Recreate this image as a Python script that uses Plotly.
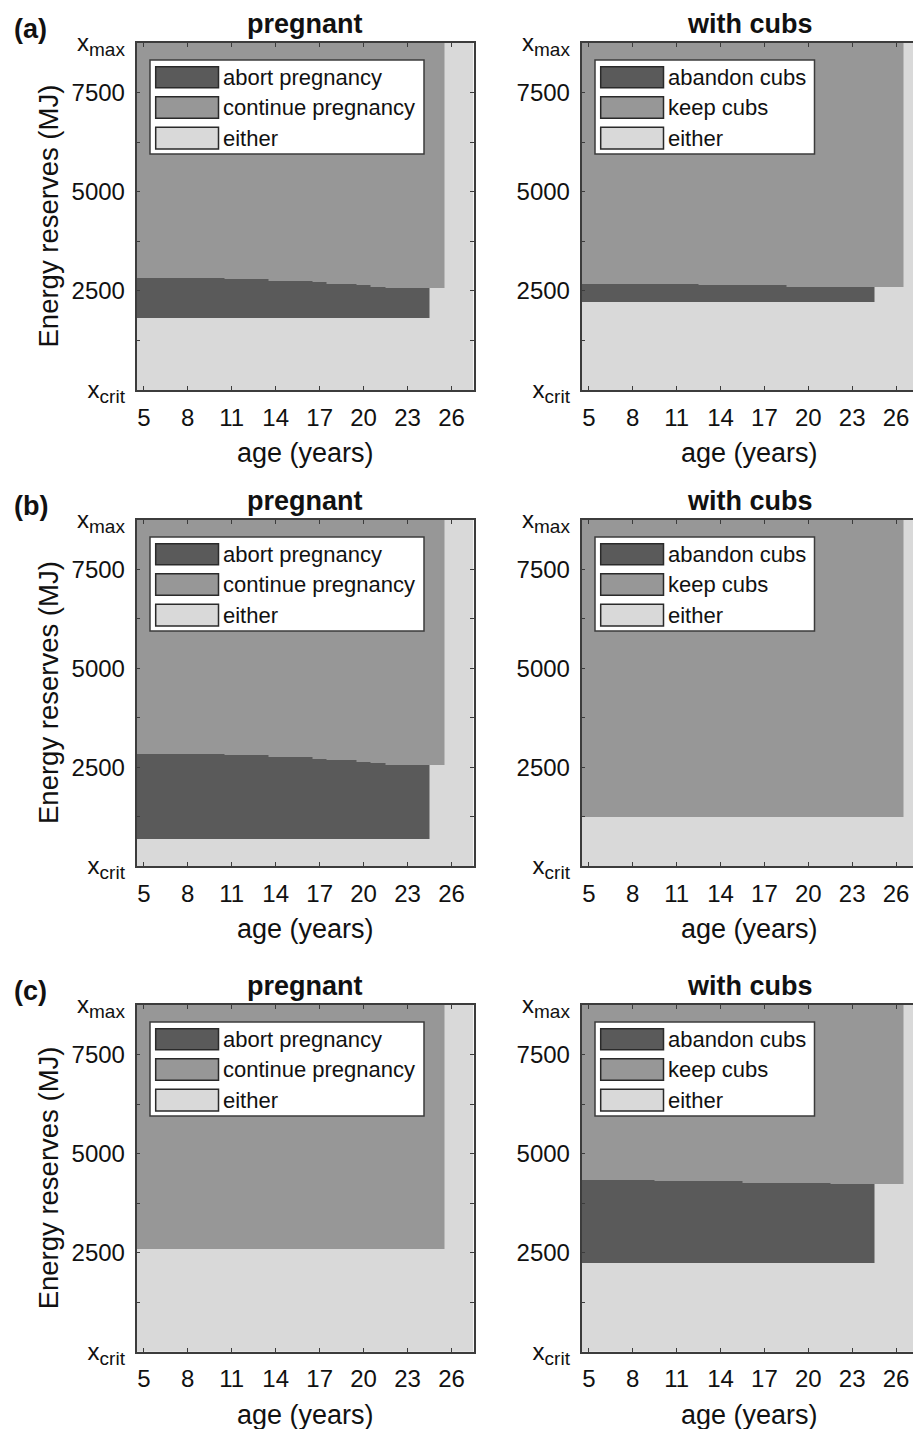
import plotly.graph_objects as go

# ---------------- data ----------------
ages = [5, 6, 7, 8, 9, 10, 11, 12, 13, 14, 15, 16, 17, 18, 19, 20, 21, 22, 23, 24, 25, 26, 27]
x_tickvals = [5, 8, 11, 14, 17, 20, 23, 26]
y_tickvals = [0, 1250, 2500, 3750, 5000, 6250, 7500, 8750]
SUB = "<sub><span style='font-size:19px'>{}</span></sub>"
y_ticktext = ["x" + SUB.format("crit"), "", "2500", "", "5000", "", "7500", "x" + SUB.format("max")]
E_MIN, E_MAX = 0, 8750

preg_labels = ["abort pregnancy", "continue pregnancy", "either"]
cubs_labels = ["abandon cubs", "keep cubs", "either"]

# lower bound of the "continue/keep" region per age (None -> whole column is "either")
a_preg_cont = [2832, 2832, 2832, 2832, 2832, 2832, 2791, 2791, 2791, 2756, 2756, 2756,
               2723, 2681, 2681, 2640, 2605, 2565, 2565, 2565, 2565, None, None]
# lower bound of the "abort/abandon" region per age (None -> no such region)
a_preg_abort = [1823, 1823, 1823, 1823, 1823, 1823, 1823, 1823, 1823, 1823, 1823, 1823,
                1823, 1823, 1823, 1823, 1823, 1823, 1823, 1823, None, None, None]

a_cubs_cont = [2673, 2673, 2673, 2673, 2673, 2673, 2673, 2673, 2640, 2640, 2640, 2640,
               2640, 2640, 2597, 2597, 2597, 2597, 2597, 2597, 2597, 2597, None]
a_cubs_abort = [2219, 2219, 2219, 2219, 2219, 2219, 2219, 2219, 2219, 2219, 2219, 2219,
                2219, 2219, 2219, 2219, 2219, 2219, 2219, 2219, None, None, None]

b_preg_cont = [2842, 2842, 2842, 2842, 2842, 2842, 2807, 2807, 2807, 2757, 2757, 2757,
               2716, 2673, 2673, 2640, 2605, 2565, 2565, 2565, 2565, None, None]
b_preg_abort = [673, 673, 673, 673, 673, 673, 673, 673, 673, 673, 673, 673,
                673, 673, 673, 673, 673, 673, 673, 673, None, None, None]

b_cubs_cont = [1250, 1250, 1250, 1250, 1250, 1250, 1250, 1250, 1250, 1250, 1250, 1250,
               1250, 1250, 1250, 1250, 1250, 1250, 1250, 1250, 1250, 1250, None]
b_cubs_abort = [None, None, None, None, None, None, None, None, None, None, None, None,
                None, None, None, None, None, None, None, None, None, None, None]

c_preg_cont = [2590, 2590, 2590, 2590, 2590, 2590, 2590, 2590, 2590, 2590, 2590, 2590,
               2590, 2590, 2590, 2590, 2590, 2590, 2590, 2590, 2590, None, None]
c_preg_abort = [None, None, None, None, None, None, None, None, None, None, None, None,
                None, None, None, None, None, None, None, None, None, None, None]

c_cubs_cont = [4330, 4330, 4330, 4330, 4330, 4297, 4297, 4297, 4297, 4297, 4297, 4262,
               4262, 4262, 4262, 4262, 4262, 4225, 4225, 4225, 4225, 4225, None]
c_cubs_abort = [2245, 2245, 2245, 2245, 2245, 2245, 2245, 2245, 2245, 2245, 2245, 2245,
                2245, 2245, 2245, 2245, 2245, 2245, 2245, 2245, None, None, None]

# ---------------- style / layout ----------------
PAGE_OFF = 8            # default body margin of the html page
W, H = 913, 1421        # figure size (window minus body margin)
DARK, MID, LIGHT = "#5a5a5a", "#979797", "#d9d9d9"
AXC = "#3c3c3c"
FONT = "Liberation Sans, Arial, sans-serif"

# positions measured in window pixels
col_px = [(136.5, 473.5), (581.5, 918.0)]
row_px = [(43.0, 390.0), (520.0, 866.0), (1005.0, 1351.7)]
row_tags = ["(a)", "(b)", "(c)"]

panels = [
    (0, 0, "pregnant", a_preg_cont, a_preg_abort, preg_labels),
    (0, 1, "with cubs", a_cubs_cont, a_cubs_abort, cubs_labels),
    (1, 0, "pregnant", b_preg_cont, b_preg_abort, preg_labels),
    (1, 1, "with cubs", b_cubs_cont, b_cubs_abort, cubs_labels),
    (2, 0, "pregnant", c_preg_cont, c_preg_abort, preg_labels),
    (2, 1, "with cubs", c_cubs_cont, c_cubs_abort, cubs_labels),
]


def px(x):
    return (x - PAGE_OFF) / W


def py(y):
    return 1 - (y - PAGE_OFF) / H


x_edges = [a - 0.5 for a in ages] + [ages[-1] + 0.5]

fig = go.Figure()
shapes, annotations = [], []

for i, (r, c, title, cont, abort, labels) in enumerate(panels, start=1):
    xs = "x" if i == 1 else f"x{i}"
    ys = "y" if i == 1 else f"y{i}"
    L, R = col_px[c]
    T, B = row_px[r]

    # grid built from the per-age boundaries
    bounds = {E_MIN, E_MAX}
    bounds.update(v for v in cont if v is not None)
    bounds.update(v for v in abort if v is not None)
    y_edges = sorted(bounds)
    z = []
    for k in range(len(y_edges) - 1):
        yc = 0.5 * (y_edges[k] + y_edges[k + 1])
        row = []
        for j in range(len(ages)):
            if cont[j] is None:
                row.append(0)
            elif yc >= cont[j]:
                row.append(1)
            elif abort[j] is not None and yc >= abort[j]:
                row.append(2)
            else:
                row.append(0)
        z.append(row)

    fig.add_trace(go.Heatmap(
        x=x_edges, y=y_edges, z=z, xaxis=xs, yaxis=ys,
        colorscale=[[0, LIGHT], [0.5, MID], [1, DARK]], zmin=0, zmax=2,
        zsmooth=False, showscale=False, hoverinfo="skip"))

    xk = "xaxis" if i == 1 else f"xaxis{i}"
    yk = "yaxis" if i == 1 else f"yaxis{i}"
    fig.update_layout(**{
        xk: dict(domain=[px(L), min(px(R), 1.0)], anchor=ys, range=[4.5, 27.5],
                 tickvals=x_tickvals, ticks="inside", ticklen=4, tickwidth=1.2,
                 tickcolor=AXC, showline=True, linecolor=AXC, linewidth=1.5,
                 mirror="allticks", showgrid=False, zeroline=False,
                 tickfont=dict(family=FONT, size=24, color="#111"),
                 ticklabelstandoff=5, automargin=False, fixedrange=True),
        yk: dict(domain=[py(B), py(T)], anchor=xs, range=[E_MIN, E_MAX],
                 tickvals=y_tickvals, ticktext=y_ticktext, ticks="inside",
                 ticklen=4, tickwidth=1.2, tickcolor=AXC, showline=True,
                 linecolor=AXC, linewidth=1.5, mirror="allticks",
                 showgrid=False, zeroline=False,
                 tickfont=dict(family=FONT, size=24, color="#111"),
                 ticklabelstandoff=5, automargin=False, fixedrange=True),
    })

    # panel title
    annotations.append(dict(text=f"<b>{title}</b>", x=px((L + R) / 2), y=py(T - 19),
                            xref="paper", yref="paper", showarrow=False,
                            xanchor="center", yanchor="middle",
                            font=dict(family=FONT, size=27, color="#111")))
    # x axis title
    annotations.append(dict(text="age (years)", x=px((L + R) / 2), y=py(B + 63),
                            xref="paper", yref="paper", showarrow=False,
                            xanchor="center", yanchor="middle",
                            font=dict(family=FONT, size=27, color="#111")))
    if c == 0:
        annotations.append(dict(text="Energy reserves (MJ)", x=px(48), y=py((T + B) / 2),
                                xref="paper", yref="paper", showarrow=False,
                                textangle=-90, xanchor="center", yanchor="middle",
                                font=dict(family=FONT, size=27.5, color="#111")))
        annotations.append(dict(text=f"<b>{row_tags[r]}</b>", x=px(12), y=py(T - 14),
                                xref="paper", yref="paper", showarrow=False,
                                xanchor="left", yanchor="middle",
                                font=dict(family=FONT, size=27, color="#111")))

    # legend box
    box_w = 274 if c == 0 else 219.5
    shapes.append(dict(type="rect", xref="paper", yref="paper",
                       x0=px(L + 13.5), x1=px(L + 13.5 + box_w),
                       y0=py(T + 111), y1=py(T + 17),
                       fillcolor="white", line=dict(color=AXC, width=1.5), layer="above"))
    sw_rows = [(23.7, 44.7), (53.7, 75.3), (84.3, 106.0)]
    for (s0, s1), col, lab in zip(sw_rows, [DARK, MID, LIGHT], labels):
        shapes.append(dict(type="rect", xref="paper", yref="paper",
                           x0=px(L + 19.2), x1=px(L + 82.0),
                           y0=py(T + s1), y1=py(T + s0),
                           fillcolor=col, line=dict(color="#2a2a2a", width=1.5),
                           layer="above"))
        annotations.append(dict(text=lab, x=px(L + 84.5), y=py(T + (s0 + s1) / 2),
                                xref="paper", yref="paper", showarrow=False,
                                xanchor="left", yanchor="middle",
                                font=dict(family=FONT, size=22, color="#111")))

fig.update_layout(width=W, height=H, margin=dict(l=0, r=0, t=0, b=0, pad=0),
                  autosize=False,
                  paper_bgcolor="white", plot_bgcolor="white",
                  showlegend=False, shapes=shapes, annotations=annotations)

fig.write_html("out.html")
